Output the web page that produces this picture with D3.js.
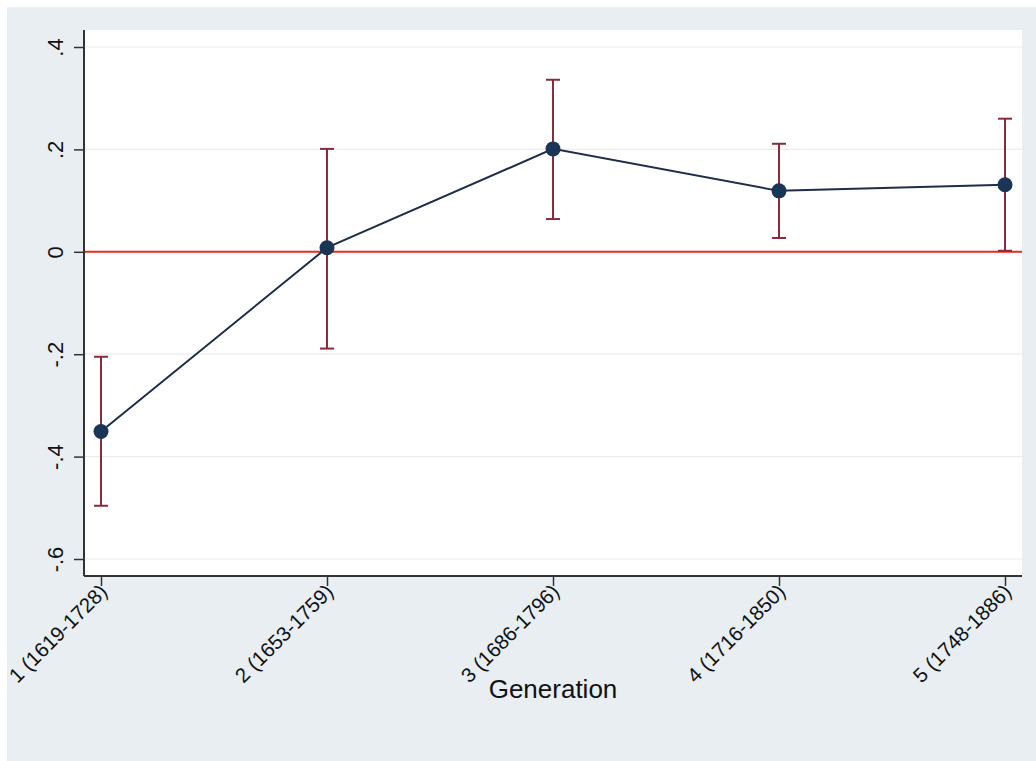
<!DOCTYPE html>
<html><head><meta charset="utf-8">
<script src="https://cdn.jsdelivr.net/npm/d3@7"></script>
<style>body{margin:0;background:#fff}svg{display:block}</style>
</head><body><svg id="c" width="1036" height="761"></svg>
<script>
const categories = ["1 (1619-1728)","2 (1653-1759)","3 (1686-1796)","4 (1716-1850)","5 (1748-1886)"];
const estimates = [-0.351, 0.008, 0.201, 0.119, 0.131];
const ciLow = [-0.496, -0.189, 0.064, 0.027, 0.002];
const ciHigh = [-0.205, 0.201, 0.336, 0.211, 0.260];
const yTicks = [0.4, 0.2, 0, -0.2, -0.4, -0.6];
const yTickLabels = [".4", ".2", "0", "-.2", "-.4", "-.6"];
const xTitle = "Generation";

const svg = d3.select("#c");
const W = 1036, H = 761;
const L = 84, R = 1022, T = 30, B = 576;
const FONT = "Liberation Sans, Arial, sans-serif";

svg.append("rect").attr("x",7).attr("y",7).attr("width",W-7).attr("height",H-7).attr("fill","#e8eef2");
svg.append("rect").attr("x",L).attr("y",T).attr("width",R-L).attr("height",B-T).attr("fill","#ffffff");

const x = d3.scalePoint().domain(d3.range(categories.length)).range([101,1005]);
const y = d3.scaleLinear().domain([-0.6,0.4]).range([559,47]);

// grid
svg.append("g").selectAll("line").data(yTicks).join("line")
  .attr("x1",L+1).attr("x2",R).attr("y1",d=>y(d)).attr("y2",d=>y(d))
  .attr("stroke","#ececec").attr("stroke-width",1.2);

// zero line
svg.append("line").attr("x1",L+1).attr("x2",R).attr("y1",y(0)).attr("y2",y(0))
  .attr("stroke","#f0281e").attr("stroke-width",2);

// y axis
const yAxis = d3.axisLeft(y).tickValues(yTicks).tickSize(10).tickFormat((d,i)=>yTickLabels[i]);
const ya = svg.append("g").attr("transform",`translate(${L},0)`).call(yAxis);
ya.attr("font-size",null).attr("font-family",null);
ya.select(".domain").attr("d",`M0,${T}V${B}`).attr("stroke","#333").attr("stroke-width",2);
ya.selectAll(".tick line").attr("stroke","#333").attr("stroke-width",1.5);
ya.selectAll(".tick text").attr("font-family",FONT).style("font-size","22px")
  .attr("fill","#111").attr("text-anchor","middle").attr("dy",0).attr("x",null).attr("y",null)
  .attr("transform","translate(-21,0) rotate(-90)");

// x axis
const xAxis = d3.axisBottom(x).tickSize(10).tickFormat(i=>categories[i]);
const xa = svg.append("g").attr("transform",`translate(0,${B})`).call(xAxis);
xa.attr("font-size",null).attr("font-family",null);
xa.select(".domain").attr("d",`M${L},0H${R}`).attr("stroke","#333").attr("stroke-width",2);
xa.selectAll(".tick line").attr("stroke","#333").attr("stroke-width",1.5);
xa.selectAll(".tick text").attr("font-family",FONT).style("font-size","20.5px")
  .attr("fill","#111").attr("text-anchor","end").attr("dy",0).attr("y",0)
  .attr("transform","translate(7,17) rotate(-45)");

svg.append("text").attr("x",553).attr("y",698).attr("text-anchor","middle")
  .attr("font-family",FONT).style("font-size","26px").attr("fill","#111").text(xTitle);

const idx = d3.range(categories.length);
// CI bars
const ci = svg.append("g").attr("stroke","#8a2a3c").attr("stroke-width",2);
ci.selectAll("line.v").data(idx).join("line").attr("class","v")
  .attr("x1",i=>x(i)).attr("x2",i=>x(i)).attr("y1",i=>y(ciLow[i])).attr("y2",i=>y(ciHigh[i]));
ci.selectAll("line.t").data(idx).join("line").attr("class","t")
  .attr("x1",i=>x(i)-7).attr("x2",i=>x(i)+7).attr("y1",i=>y(ciHigh[i])).attr("y2",i=>y(ciHigh[i]));
ci.selectAll("line.b").data(idx).join("line").attr("class","b")
  .attr("x1",i=>x(i)-7).attr("x2",i=>x(i)+7).attr("y1",i=>y(ciLow[i])).attr("y2",i=>y(ciLow[i]));

// line
svg.append("path").datum(idx).attr("fill","none").attr("stroke","#1e2d4a").attr("stroke-width",2)
  .attr("d",d3.line().x(i=>x(i)).y(i=>y(estimates[i])));

svg.append("g").selectAll("circle").data(idx).join("circle")
  .attr("cx",i=>x(i)).attr("cy",i=>y(estimates[i])).attr("r",7.5).attr("fill","#1b3557");
</script></body></html>
